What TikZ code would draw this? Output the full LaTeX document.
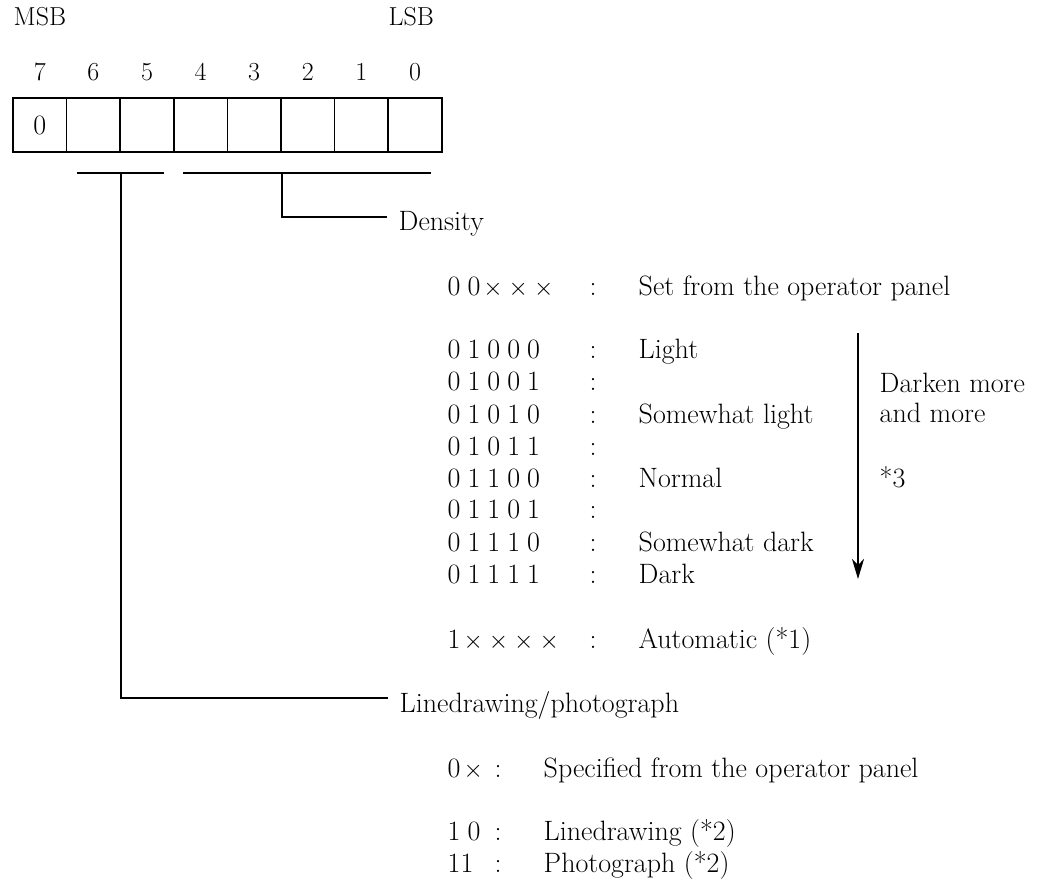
\documentclass[tikz,border=0pt]{standalone}
\usetikzlibrary{arrows.meta}
\newcommand\dsp{\hspace{0.25em}}
\newcommand\xx{\hspace{3pt}{\fontsize{32}{32}\selectfont$\times$}\hspace{3pt}}
\begin{document}
\begin{tikzpicture}[x=1pt,y=-1pt,line width=1.4pt,
  txt/.style={anchor=base west,inner sep=0pt,font=\fontsize{28}{32}\selectfont},
  colon/.style={anchor=base,inner sep=0pt,font=\fontsize{28}{32}\selectfont},
  small/.style={anchor=base,inner sep=0pt,font=\fontsize{26}{30}\selectfont},
  smallw/.style={anchor=base west,inner sep=0pt,font=\fontsize{26}{30}\selectfont},
  cell/.style={draw,line width=1.7pt,minimum width=53.6pt,minimum height=54pt,inner sep=0pt,font=\fontsize{28}{32}\selectfont}]
\useasboundingbox (0,0) rectangle (1044,879);
% header
\node[smallw] (msb) at (13,25) {MSB};
\node[smallw] (lsb) at (388,25) {LSB};
% cells and bit numbers
\foreach \i in {0,...,7}{
  \pgfmathsetmacro\cx{13+53.6*(7-\i)+26.8}
  \node[cell] (b\i) at (\cx,125) {};
  \node[small] (n\i) at (\cx,80) {\i};
}
\node[font=\fontsize{28}{32}\selectfont,inner sep=0pt] (z7) at (b7) {0};
% brackets
\coordinate (l1) at (77,173);
\coordinate (r1) at (164,173);
\coordinate (m1) at (b6.south east |- l1);
\coordinate (l2) at (183,173);
\coordinate (r2) at (431,173);
\coordinate (m2) at (b3.south east |- l2);
\draw (l1) -- (r1);
\draw (l2) -- (r2);
% Density
\node[txt] (dens) at (398,230) {Density};
\draw (m2) |- ([xshift=-11pt,yshift=13pt]dens.base west);
% density table
\node[txt] (c0) at (447,295) {0\dsp0\xx\xx\xx};
\node[colon] (k0) at (593,295) {:};
\node[txt] (t0) at (638,295) {Set from the operator panel};
\node[txt] (c1) at (447,358) {0\dsp1\dsp0\dsp0\dsp0};
\node[colon] (k1) at (593,358) {:};
\node[txt] (t1) at (638,358) {Light};
\node[txt] (c2) at (447,390) {0\dsp1\dsp0\dsp0\dsp1};
\node[colon] (k2) at (593,390) {:};
\node[txt] (c3) at (447,423) {0\dsp1\dsp0\dsp1\dsp0};
\node[colon] (k3) at (593,423) {:};
\node[txt] (t3) at (638,423) {Somewhat light};
\node[txt] (c4) at (447,455) {0\dsp1\dsp0\dsp1\dsp1};
\node[colon] (k4) at (593,455) {:};
\node[txt] (c5) at (447,487) {0\dsp1\dsp1\dsp0\dsp0};
\node[colon] (k5) at (593,487) {:};
\node[txt] (t5) at (638,487) {Normal};
\node[txt] (c6) at (447,518) {0\dsp1\dsp1\dsp0\dsp1};
\node[colon] (k6) at (593,518) {:};
\node[txt] (c7) at (447,551) {0\dsp1\dsp1\dsp1\dsp0};
\node[colon] (k7) at (593,551) {:};
\node[txt] (t7) at (638,551) {Somewhat dark};
\node[txt] (c8) at (447,583) {0\dsp1\dsp1\dsp1\dsp1};
\node[colon] (k8) at (593,583) {:};
\node[txt] (t8) at (638,583) {Dark};
\node[txt] (c9) at (447,648) {1\xx\xx\xx\xx};
\node[colon] (k9) at (593,648) {:};
\node[txt] (t9) at (638,648) {Automatic (*1)};
% darken arrow
\coordinate (atop) at (858,333);
\coordinate (abot) at (858,579);
\draw[-{Stealth[length=20pt,width=12pt,inset=6pt]}] (atop) -- (abot);
\node[txt] (dk1) at (879,392) {Darken more};
\node[txt] (dk2) at (879,422) {and more};
\node[txt] (dk3) at (879,487) {*3};
% Linedrawing/photograph
\node[txt] (lp) at (399,712) {Linedrawing/photograph};
\draw (m1) |- ([xshift=-11pt,yshift=14pt]lp.base west);
\node[txt] (p0) at (447,777) {0\xx};
\node[colon] (q0) at (498,777) {:};
\node[txt] (s0) at (543,777) {Specified from the operator panel};
\node[txt] (p1) at (447,840) {1\dsp0};
\node[colon] (q1) at (498,840) {:};
\node[txt] (s1) at (543,840) {Linedrawing (*2)};
\node[txt] (p2) at (447,872) {11};
\node[colon] (q2) at (498,872) {:};
\node[txt] (s2) at (543,872) {Photograph (*2)};
\end{tikzpicture}
\end{document}
